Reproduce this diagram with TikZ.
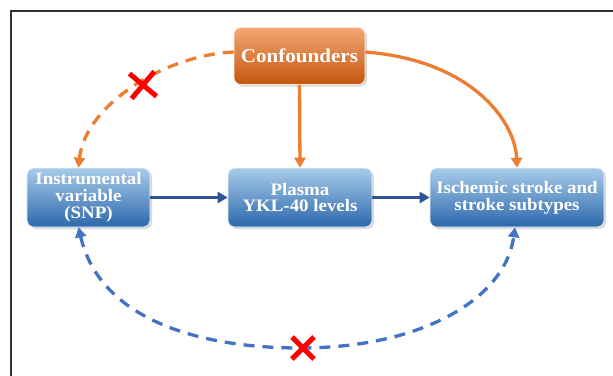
\documentclass[tikz,border=0pt]{standalone}
\usepackage{fontspec}
\setmainfont{Liberation Serif}
\newfontfamily\boxfont[FakeStretch=1.08]{Liberation Serif}
\usepackage{tikz}
\usetikzlibrary{arrows.meta}
\usetikzlibrary{shadows}
\usetikzlibrary{shapes.misc}
\definecolor{boxtop}{HTML}{A8CBEA}
\definecolor{boxbottom}{HTML}{2C68AC}
\definecolor{conftop}{HTML}{F4A774}
\definecolor{confbottom}{HTML}{C4560D}
\definecolor{orangeline}{HTML}{ED7D31}
\definecolor{blueline}{HTML}{2F5597}
\definecolor{dashblue}{HTML}{4472C4}

\begin{document}
\begin{tikzpicture}
		[
			x = 1bp, y = 1bp,
			bluebox/.style = {rectangle, rounded corners = 7bp, top color = boxtop, bottom color = boxbottom, draw = white!80!boxtop, line width = 0.6bp, minimum height = 59bp, align = center, text = white, font = \boxfont\bfseries\fontsize{17.5bp}{16.8bp}\selectfont, drop shadow = {shadow xshift = 2bp, shadow yshift = -2bp, opacity = 0.3}},
			orangebox/.style = {bluebox, top color = conftop, bottom color = confbottom, draw = white!80!conftop, minimum height = 57bp, font = \boxfont\bfseries\fontsize{19.5bp}{20bp}\selectfont},
			link/.style = {line width = 3.3bp, -{Triangle[length = 10bp, width = 11bp]}},
			dashlink/.style = {link, dash pattern = on 11bp off 8bp},
			crossmark/.style = {cross out, draw = red, line width = 5bp, inner sep = 0bp, minimum size = 17bp},
		]
			\useasboundingbox (0,0) rectangle (613,375);
			\draw [line width = 1.4bp, draw = black!80] (11,-5) -- (11,364) -- (620,364);
			%
			\node (conf) [orangebox, minimum width = 131bp] at (299.5,319) {Confounders};
			\node (snp) [bluebox, minimum width = 123bp] at (88.5,177.5) {Instrumental\\variable\\(SNP)};
			\node (ykl) [bluebox, minimum width = 144bp] at (300,177.5) {Plasma\\YKL-40 levels};
			\node (stroke) [bluebox, minimum width = 174bp] at (517,177.5) {Ischemic stroke and\\stroke subtypes};
			%
			\draw [link, blueline] (snp.east) -- (ykl.west);
			\draw [link, blueline] (ykl.east) -- (stroke.west);
			\draw [link, orangeline] (conf.south) -- (ykl.north);
			\draw [link, orangeline] ([yshift = 4bp]conf.east) .. controls (470,315) and (515,255) .. (stroke.north);
			\draw [dashlink, orangeline] ([yshift = 4bp]conf.west) .. controls (165,320) and (85,270) .. ([xshift = -10bp]snp.north);
			\draw [dashlink, dashblue, {Triangle[length = 10bp, width = 11bp]}-{Triangle[length = 10bp, width = 11bp]}] ([xshift = -10bp]snp.south) .. controls (100,55) and (200,27) .. (300,27) .. controls (420,27) and (505,75) .. ([xshift = -2bp]stroke.south);
			%
			\node (cut1) [crossmark, rotate = 5, minimum size = 20bp] at (143,290) {};
			\node (cut2) [crossmark] at (303,27) {};
			%
		\end{tikzpicture}
\end{document}
